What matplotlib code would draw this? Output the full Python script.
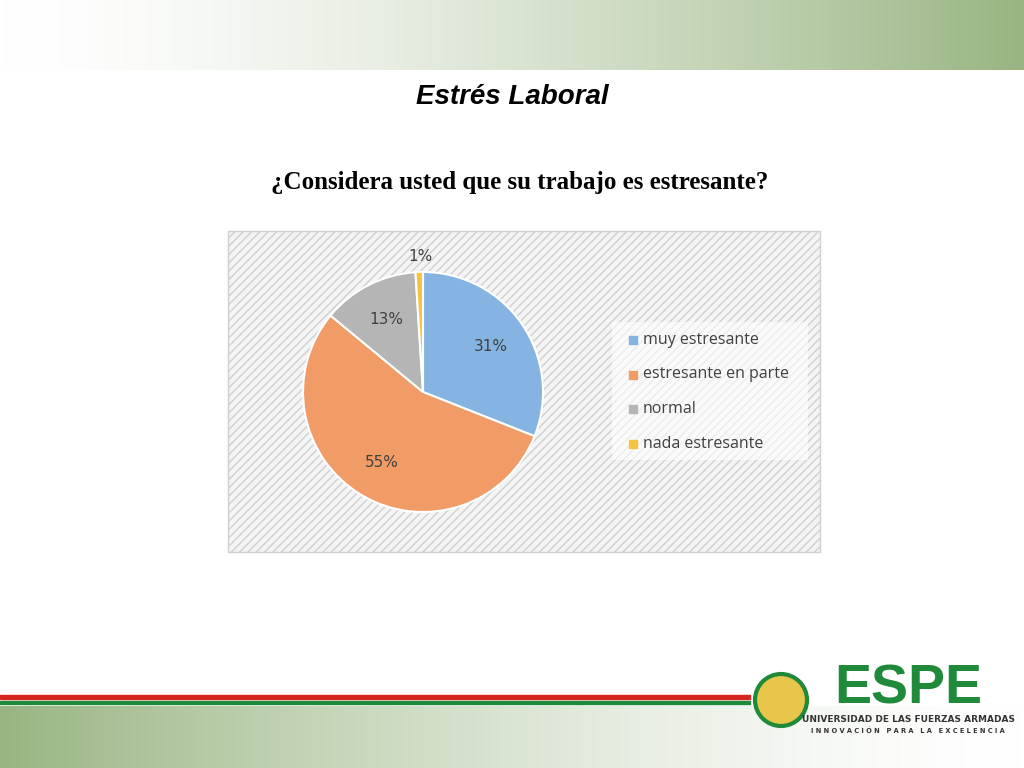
import numpy as np
import matplotlib.pyplot as plt
from matplotlib.patches import Rectangle

title = "Estrés Laboral"
question = "¿Considera usted que su trabajo es estresante?"
categories = ["muy estresante", "estresante en parte", "normal", "nada estresante"]
values = [31, 55, 13, 1]
colors = ["#86b4e2", "#f19c66", "#b5b5b5", "#f5c243"]

fig = plt.figure(figsize=(10.24, 7.68), dpi=100)
bg = fig.add_axes([0, 0, 1, 1])
bg.set_xlim(0, 1024)
bg.set_ylim(768, 0)
bg.axis("off")

# top and bottom gradient bands
g = np.linspace(0, 1, 256).reshape(1, -1)
green = np.array([0.60, 0.71, 0.51])
top = np.ones((1, 256, 3)) * (1 - g[..., None] ** 1.5) + green * g[..., None] ** 1.5
bg.imshow(top, extent=(0, 1024, 70, 0), aspect="auto")
bot = np.ones((1, 256, 3)) * (1 - (1 - g[..., None]) ** 1.5) + green * (1 - g[..., None]) ** 1.5
bg.imshow(bot, extent=(0, 1024, 768, 706), aspect="auto")
bg.set_xlim(0, 1024)
bg.set_ylim(768, 0)

# red / green stripes
bg.add_patch(Rectangle((0, 695), 750, 4, color="#d7261e"))
bg.add_patch(Rectangle((0, 701), 750, 3, color="#1f8a3a"))

bg.text(512, 97, title, ha="center", va="center", fontsize=20, fontweight="bold",
        style="italic", family="Liberation Sans")
bg.text(520, 183, question, ha="center", va="center", fontsize=18, fontweight="bold",
        family="Liberation Serif")

# chart area with hatch
bg.add_patch(Rectangle((228, 231), 592, 321, facecolor="#f4f4f4", edgecolor="#d0d0d0",
                       hatch="////", lw=1))
bg.add_patch(Rectangle((612, 322), 196, 138, facecolor="white", edgecolor="none", alpha=0.6))

# logo
bg.text(908, 690, "ESPE", ha="center", va="center", fontsize=40, fontweight="bold",
        color="#1f8a3a", family="Liberation Sans")
bg.text(908, 719, "UNIVERSIDAD DE LAS FUERZAS ARMADAS", ha="center", va="center",
        fontsize=6.5, fontweight="bold", color="#333333")
bg.text(908, 731, "I N N O V A C I Ó N   P A R A   L A   E X C E L E N C I A", ha="center",
        va="center", fontsize=4.8, fontweight="bold", color="#333333")
bg.add_patch(plt.Circle((781, 700), 26, facecolor="#e8c64a", edgecolor="#1f8a3a", lw=3))

# pie
cx, cy, r = 423, 392, 120
pa = fig.add_axes([(cx - r) / 1024, (768 - cy - r) / 768, 2 * r / 1024, 2 * r / 768])
wedges, _, autos = pa.pie(values, colors=colors, startangle=90, counterclock=False,
                          autopct="%d%%", pctdistance=0.68,
                          wedgeprops=dict(edgecolor="white", linewidth=1.5),
                          textprops=dict(fontsize=11, color="#404040"))
autos[3].set_position((-0.02, 1.13))
pa.set_xlim(-1, 1)
pa.set_ylim(-1, 1)
pa.set_aspect("auto")

for i, (c, lab) in enumerate(zip(categories, colors)):
    y = 340 + i * 34.5
    bg.add_patch(Rectangle((629, y - 4), 8, 8, color=lab))
    bg.text(643, y, c, va="center", fontsize=11.5, color="#404040", family="Open Sans")

fig.savefig("out.png", dpi=100)
